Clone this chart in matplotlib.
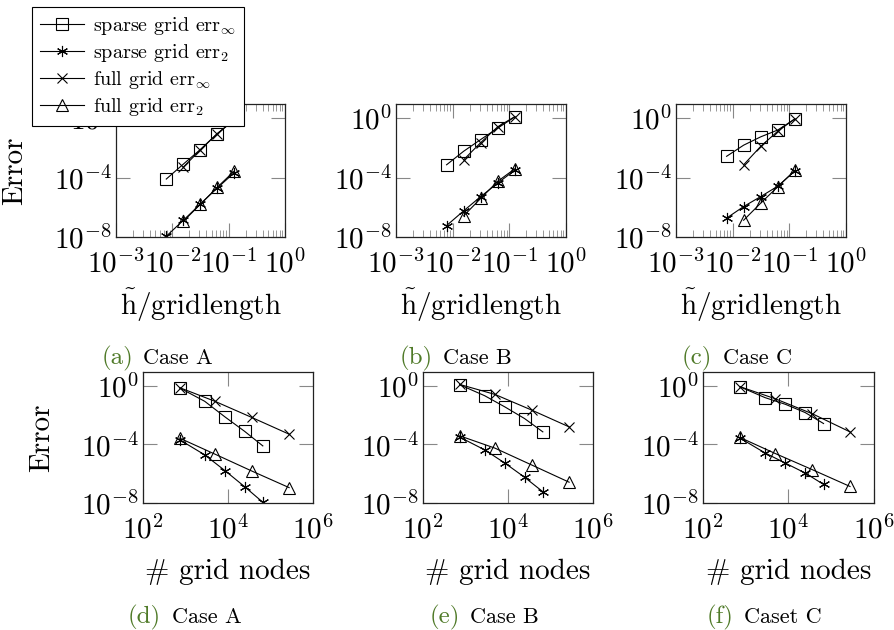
import numpy as np
import matplotlib
matplotlib.use('Agg')
import matplotlib.pyplot as plt
from matplotlib.ticker import LogLocator, NullLocator

plt.rcParams['font.family'] = ['cmr10', 'DejaVu Serif']
plt.rcParams['mathtext.fontset'] = 'cm'
plt.rcParams['axes.formatter.use_mathtext'] = True

# --- data (log10 of error) ---
h_sparse = [1/8, 1/16, 1/32, 1/64, 1/128]
h_full = [1/8, 1/16, 1/32, 1/64]
nodes_sparse = [729, 2825, 8500, 24500, 66000]
nodes_full = [729, 4913, 35937, 274625]

cases = ['A', 'B', 'C']
sparse_inf = {'A': [-0.14, -1.05, -2.12, -3.1, -4.1],
              'B': [0.08, -0.67, -1.44, -2.23, -3.14],
              'C': [-0.06, -0.8, -1.26, -1.82, -2.57]}
sparse_two = {'A': [-3.68, -4.71, -5.79, -6.88, -7.95],
              'B': [-3.5, -4.37, -5.28, -6.24, -7.23],
              'C': [-3.56, -4.58, -5.28, -5.95, -6.73]}
full_inf = {'A': [-0.12, -1.05, -2.15, -3.3],
            'B': [0.1, -0.58, -1.65, -2.8],
            'C': [-0.05, -0.88, -1.9, -3.14]}
full_two = {'A': [-3.57, -4.66, -5.81, -6.95],
            'B': [-3.41, -4.25, -5.4, -6.58],
            'C': [-3.52, -4.62, -5.72, -6.87]}

top_captions = ['Case A', 'Case B', 'Case C']
bottom_captions = ['Case A', 'Case B', 'Caset C']
top_letters = ['(a)', '(b)', '(c)']
bottom_letters = ['(d)', '(e)', '(f)']

W, H = 895, 630
fig = plt.figure(figsize=(W / 100, H / 100), dpi=100)

def px_axes(l, t, r, b):
    return fig.add_axes([l / W, 1 - b / H, (r - l) / W, (b - t) / H])

ast = (6, 2, 0)
styles = [dict(marker='s', ms=8, mfc='none', label=r'sparse grid err$_\infty$'),
          dict(marker=ast, ms=8, label=r'sparse grid err$_2$'),
          dict(marker='x', ms=7, label=r'full grid err$_\infty$'),
          dict(marker='^', ms=8, mfc='none', label=r'full grid err$_2$')]

FS = 21

def draw(ax, xs, xf, case):
    series = [(xs, sparse_inf[case]), (xs, sparse_two[case]),
              (xf, full_inf[case]), (xf, full_two[case])]
    lines = []
    for (x, e), st in zip(series, styles):
        ln, = ax.plot(x, 10.0 ** np.array(e), color='black', lw=0.8,
                      mec='black', mew=0.8, **st)
        lines.append(ln)
    ax.set_xscale('log'); ax.set_yscale('log')
    ax.set_ylim(1e-8, 10 ** 0.95)
    ax.set_yticks([1e-8, 1e-4, 1e0])
    ax.yaxis.set_minor_locator(NullLocator())
    ax.tick_params(which='both', direction='in', top=True, right=True,
                   color='#888888', labelsize=FS, pad=3)
    ax.tick_params(axis='x', which='both', pad=9)
    ax.tick_params(which='major', length=10, width=0.8)
    ax.tick_params(which='minor', length=5, width=0.6)
    for s in ax.spines.values():
        s.set_color('#222222'); s.set_linewidth(0.9)
    return lines

top_pos = [(116, 104, 285, 237), (396, 104, 566, 237), (676, 104, 846, 237)]
bot_pos = [(143, 372, 313, 503), (423, 372, 593, 503), (703, 372, 874, 503)]
green = '#4f7a28'

top_cap_x = [(102, 143), (400, 443), (682, 723)]
bot_cap_x = [(128, 172), (430, 470), (707, 744)]

for i, case in enumerate(cases):
    ax = px_axes(*top_pos[i])
    handles = draw(ax, h_sparse, h_full, case)
    ax.set_xlim(1e-3, 1)
    ax.set_xticks([1e-3, 1e-2, 1e-1, 1e0])
    ax.xaxis.set_minor_locator(LogLocator(subs=np.arange(2, 10), numticks=20))
    ax.set_xlabel(r'$\tilde{\mathrm{h}}$/gridlength', fontsize=FS, labelpad=5)
    if i == 0:
        ax.set_ylabel('Error', fontsize=FS)
        ax.yaxis.set_label_coords(-0.52, 0.5)
    lx, cx = top_cap_x[i]
    fig.text(lx / W, 1 - 358 / H, top_letters[i], color=green,
             fontsize=18, ha='left', va='center')
    fig.text(cx / W, 1 - 358 / H, top_captions[i], color='black',
             fontsize=16, ha='left', va='center')

    ax = px_axes(*bot_pos[i])
    draw(ax, nodes_sparse, nodes_full, case)
    ax.set_xlim(1e2, 1e6)
    ax.set_xticks([1e2, 1e4, 1e6])
    ax.xaxis.set_minor_locator(NullLocator())
    ax.set_xlabel('# grid nodes', fontsize=FS, labelpad=10)
    if i == 0:
        ax.set_ylabel('Error', fontsize=FS)
        ax.yaxis.set_label_coords(-0.518, 0.5)
    lx, cx = bot_cap_x[i]
    fig.text(lx / W, 1 - 617 / H, bottom_letters[i], color=green,
             fontsize=18, ha='left', va='center')
    fig.text(cx / W, 1 - 617 / H, bottom_captions[i], color='black',
             fontsize=16, ha='left', va='center')

leg = fig.legend(handles=handles, loc='upper left',
                 bbox_to_anchor=(32 / W, 1 - 7 / H), fontsize=14.5,
                 fancybox=False, framealpha=1, edgecolor='black',
                 handlelength=2.2, handletextpad=0.45, labelspacing=0.25,
                 borderpad=0.4, borderaxespad=0)
leg.get_frame().set_linewidth(0.8)

fig.savefig('out.png', dpi=100)
